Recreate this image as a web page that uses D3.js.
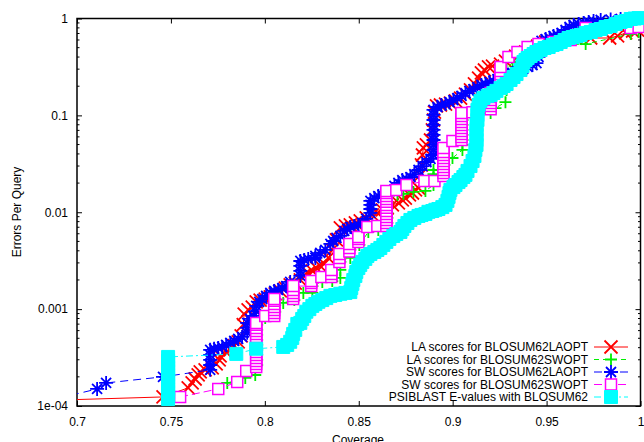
<!DOCTYPE html>
<html>
<head>
<meta charset="utf-8">
<script src="https://cdn.jsdelivr.net/npm/d3@7"></script>
<style>
	body { margin: 0; background: #fff; }
	svg { display: block; font-family: "Liberation Sans", Arial, Helvetica, sans-serif; }
</style>
</head>
<body>
<svg id="chart" width="644" height="442"></svg>
<script>
// axis ticks
const coverageTicks = [0.7, 0.75, 0.8, 0.85, 0.9, 0.95, 1]
const coverageTickLabels = ['0.7', '0.75', '0.8', '0.85', '0.9', '0.95', '1']
const errorTicks = [1e-4, 1e-3, 1e-2, 0.1, 1]
const errorTickLabels = ['1e-04', '0.001', '0.01', '0.1', '1']

const seriesNames = [
	'LA scores for BLOSUM62LAOPT',
	'LA scores for BLOSUM62SWOPT',
	'SW scores for BLOSUM62LAOPT',
	'SW scores for BLOSUM62SWOPT',
	'PSIBLAST E-values with BLOSUM62',
]

// [coverage, errors per query]
const laLaopt = [
	[0.69, 1.15e-4], [0.7458, 1.24e-4], [0.7592, 1.54e-4], [0.7613, 1.73e-4], [0.7629, 1.9e-4],
	[0.7645, 2.09e-4], [0.7656, 2.25e-4], [0.7682, 2.36e-4], [0.772, 2.47e-4], [0.7741, 2.72e-4],
	[0.7757, 2.99e-4], [0.7762, 3.29e-4], [0.7794, 3.6e-4], [0.7816, 3.8e-4], [0.7837, 4.2e-4],
	[0.7858, 4.6e-4], [0.7874, 5.29e-4], [0.7885, 6.9e-4], [0.789, 8.9e-4], [0.7911, 9.8e-4],
	[0.7933, 1.05e-3], [0.7954, 1.19e-3], [0.7975, 1.24e-3], [0.8002, 1.27e-3], [0.8029, 1.34e-3],
	[0.8055, 1.44e-3], [0.8082, 1.54e-3], [0.8109, 1.65e-3], [0.8135, 1.78e-3], [0.8162, 1.86e-3],
	[0.8189, 2.0e-3], [0.821, 2.25e-3], [0.8231, 2.36e-3], [0.8253, 2.48e-3], [0.8274, 2.66e-3],
	[0.8295, 2.79e-3], [0.8317, 2.93e-3], [0.8338, 3.38e-3], [0.8359, 4.08e-3], [0.8381, 5.18e-3],
	[0.8402, 6.89e-3], [0.8429, 7.22e-3], [0.8455, 7.39e-3], [0.8482, 7.75e-3], [0.8508, 8.13e-3],
	[0.854, 8.73e-3], [0.8572, 9.38e-3], [0.8599, 9.83e-3], [0.8626, 1.06e-2], [0.8652, 1.11e-2],
	[0.8679, 1.19e-2], [0.8711, 1.25e-2], [0.8732, 1.34e-2], [0.8748, 1.4e-2], [0.877, 1.51e-2],
	[0.8786, 1.58e-2], [0.8802, 1.7e-2], [0.8818, 1.78e-2], [0.8828, 2.43e-2], [0.8834, 3.08e-2],
	[0.8839, 3.9e-2], [0.8844, 4.61e-2], [0.886, 4.95e-2], [0.8882, 5.57e-2], [0.8892, 7.07e-2],
	[0.8898, 8.96e-2], [0.8903, 0.108], [0.8914, 0.125], [0.8935, 0.128], [0.8962, 0.131],
	[0.8988, 0.134], [0.9015, 0.141], [0.9042, 0.151], [0.9068, 0.166], [0.9095, 0.183],
	[0.9116, 0.211], [0.9138, 0.243], [0.9153, 0.274], [0.9169, 0.294], [0.9191, 0.316],
	[0.9212, 0.323], [0.9255, 0.339], [0.9281, 0.364], [0.9308, 0.391], [0.9335, 0.41],
	[0.9361, 0.43], [0.9388, 0.451], [0.9415, 0.473], [0.9452, 0.52], [0.9495, 0.572],
	[0.9532, 0.586], [0.9575, 0.6], [0.9655, 0.629], [0.9735, 0.629], [0.9836, 0.629],
	[0.9878, 0.66], [0.9921, 0.709], [0.9958, 0.743], [0.9985, 0.761],
]

const laSwopt = [
	[0.78, 1.73e-4], [0.7896, 1.95e-4], [0.7949, 2.09e-4], [0.7959, 2.65e-4], [0.7959, 2.99e-4],
	[0.7959, 3.37e-4], [0.7959, 3.8e-4], [0.7959, 4.27e-4], [0.7959, 4.81e-4], [0.7959, 5.42e-4],
	[0.7959, 6.1e-4], [0.7959, 6.9e-4], [0.8002, 8.1e-4], [0.8055, 9.4e-4], [0.8055, 1.1e-3],
	[0.8098, 1.16e-3], [0.8157, 1.24e-3], [0.8157, 1.47e-3], [0.8205, 1.47e-3], [0.8253, 1.47e-3],
	[0.8253, 1.73e-3], [0.8306, 1.91e-3], [0.8359, 1.95e-3], [0.8402, 2.1e-3], [0.8402, 2.54e-3],
	[0.8402, 3.07e-3], [0.8455, 3.38e-3], [0.8455, 4.08e-3], [0.8503, 4.6e-3], [0.8551, 6.26e-3],
	[0.8604, 6.57e-3], [0.8652, 6.89e-3], [0.8652, 7.75e-3], [0.8652, 8.73e-3], [0.8652, 9.83e-3],
	[0.8652, 1.11e-2], [0.8652, 1.25e-2], [0.8652, 1.4e-2], [0.8706, 1.51e-2], [0.8738, 1.55e-2],
	[0.8791, 1.62e-2], [0.8855, 1.66e-2], [0.8898, 1.91e-2], [0.8898, 2.1e-2], [0.8898, 2.26e-2],
	[0.8898, 2.48e-2], [0.8898, 2.73e-2], [0.8956, 3.08e-2], [0.8999, 3.63e-2], [0.9052, 4.4e-2],
	[0.9052, 4.95e-2], [0.9052, 5.57e-2], [0.9052, 6.28e-2], [0.9052, 7.07e-2], [0.9052, 7.96e-2],
	[0.9052, 8.96e-2], [0.9106, 0.101], [0.9202, 0.106], [0.9228, 0.119], [0.9281, 0.137],
	[0.9287, 0.183], [0.9287, 0.206], [0.9287, 0.232], [0.9287, 0.261], [0.9287, 0.294],
	[0.9319, 0.356], [0.9351, 0.41], [0.9457, 0.496], [0.9548, 0.533], [0.9708, 0.545],
	[0.9948, 0.692], [0.999, 0.726],
]

const swLaopt = [
	[0.69, 1.2e-4], [0.7107, 1.5e-4], [0.7155, 1.73e-4], [0.7458, 2.0e-4],
	[0.7709, 2.36e-4], [0.7709, 2.65e-4], [0.7709, 2.99e-4], [0.7709, 3.37e-4], [0.7709, 3.8e-4],
	[0.773, 3.9e-4], [0.7752, 3.98e-4], [0.7773, 4.07e-4], [0.7794, 4.27e-4], [0.7816, 4.48e-4],
	[0.7837, 4.7e-4], [0.7858, 4.93e-4], [0.7879, 5.16e-4], [0.7906, 5.69e-4], [0.7906, 6.4e-4],
	[0.7906, 7.21e-4], [0.7922, 7.92e-4], [0.7938, 8.5e-4], [0.7954, 9.55e-4], [0.7954, 1.08e-3],
	[0.797, 1.19e-3], [0.7986, 1.27e-3], [0.8007, 1.37e-3], [0.8029, 1.47e-3], [0.805, 1.54e-3],
	[0.8071, 1.58e-3], [0.8093, 1.65e-3], [0.8114, 1.73e-3], [0.8135, 1.91e-3], [0.8189, 2.2e-3],
	[0.8189, 2.48e-3], [0.8189, 2.79e-3], [0.8189, 3.14e-3], [0.821, 3.22e-3], [0.8231, 3.3e-3],
	[0.8269, 3.38e-3], [0.8269, 3.54e-3], [0.8295, 3.8e-3], [0.8322, 4.08e-3], [0.8349, 4.71e-3],
	[0.8364, 5.05e-3], [0.8381, 5.43e-3], [0.8402, 5.69e-3], [0.8423, 6.41e-3], [0.8439, 6.72e-3],
	[0.8455, 7.05e-3], [0.8476, 7.22e-3], [0.8498, 7.39e-3], [0.8519, 7.75e-3], [0.854, 8.53e-3],
	[0.8562, 9.83e-3], [0.8562, 1.08e-2], [0.8562, 1.19e-2], [0.8562, 1.31e-2], [0.8583, 1.4e-2],
	[0.8604, 1.47e-2], [0.8626, 1.51e-2], [0.8647, 1.55e-2], [0.8668, 1.66e-2], [0.869, 1.87e-2],
	[0.8711, 2.01e-2], [0.8732, 2.15e-2], [0.8754, 2.21e-2], [0.8775, 2.31e-2], [0.8796, 2.48e-2],
	[0.8818, 2.73e-2], [0.8839, 3.0e-2], [0.886, 3.3e-2], [0.8882, 3.55e-2], [0.8898, 3.9e-2],
	[0.8898, 4.4e-2], [0.8898, 4.95e-2], [0.8898, 5.57e-2], [0.8898, 6.28e-2], [0.8898, 7.07e-2],
	[0.8898, 7.96e-2], [0.8898, 8.96e-2], [0.8898, 0.101], [0.8898, 0.114], [0.8919, 0.122],
	[0.894, 0.128], [0.8962, 0.131], [0.8983, 0.137], [0.9004, 0.144], [0.9025, 0.151],
	[0.9047, 0.159], [0.9068, 0.17], [0.9089, 0.179], [0.9111, 0.187], [0.9132, 0.196],
	[0.9153, 0.206], [0.9175, 0.211], [0.9196, 0.221], [0.9217, 0.226], [0.9239, 0.237],
	[0.9265, 0.249], [0.9292, 0.261], [0.9319, 0.274], [0.9345, 0.287], [0.9372, 0.301],
	[0.9399, 0.316], [0.9425, 0.331], [0.9446, 0.347], [0.9457, 0.401], [0.9457, 0.462],
	[0.9457, 0.533], [0.9473, 0.586], [0.9495, 0.614], [0.9516, 0.629], [0.9537, 0.66],
	[0.9558, 0.676], [0.958, 0.709], [0.9601, 0.761], [0.9622, 0.817], [0.9644, 0.857],
	[0.967, 0.877], [0.9697, 0.899], [0.9724, 0.92], [0.975, 0.942], [0.9788, 0.965],
	[0.9841, 0.976], [0.9894, 0.988],
]

const swSwopt = [
	[0.7549, 1.24e-4], [0.7752, 1.5e-4], [0.7853, 1.77e-4], [0.7901, 2.3e-4],
	[0.7954, 2.53e-4], [0.7954, 2.72e-4], [0.7954, 2.92e-4], [0.7954, 3.13e-4], [0.7954, 3.37e-4],
	[0.7954, 3.6e-4], [0.7954, 3.9e-4], [0.7954, 4.2e-4], [0.7954, 4.48e-4], [0.7954, 4.81e-4],
	[0.7954, 5.16e-4], [0.7954, 5.55e-4], [0.7954, 5.96e-4], [0.7954, 6.4e-4], [0.7954, 6.9e-4],
	[0.7954, 7.21e-4], [0.8002, 8.5e-4], [0.805, 8.5e-4], [0.805, 9.1e-4], [0.805, 9.8e-4],
	[0.805, 1.05e-3], [0.805, 1.13e-3], [0.805, 1.22e-3], [0.805, 1.27e-3], [0.8151, 1.27e-3],
	[0.8151, 1.37e-3], [0.8151, 1.47e-3], [0.8151, 1.58e-3], [0.8151, 1.73e-3], [0.8247, 1.73e-3],
	[0.8247, 1.86e-3], [0.8247, 1.95e-3], [0.8301, 2.15e-3], [0.8354, 2.15e-3], [0.8354, 2.31e-3],
	[0.8354, 2.54e-3], [0.8397, 3.07e-3], [0.8397, 3.38e-3], [0.8397, 3.71e-3], [0.845, 3.94e-3],
	[0.845, 4.28e-3], [0.845, 4.71e-3], [0.8498, 4.94e-3], [0.8498, 5.3e-3], [0.8498, 5.56e-3],
	[0.8546, 7.05e-3], [0.8599, 7.22e-3], [0.8647, 7.22e-3], [0.8647, 7.75e-3], [0.8647, 8.33e-3],
	[0.8647, 8.94e-3], [0.8647, 9.6e-3], [0.8647, 1.03e-2], [0.8647, 1.11e-2], [0.8647, 1.19e-2],
	[0.8647, 1.28e-2], [0.8647, 1.37e-2], [0.8647, 1.47e-2], [0.8647, 1.58e-2], [0.8647, 1.66e-2],
	[0.87, 1.7e-2], [0.8754, 1.91e-2], [0.885, 2.1e-2], [0.8903, 2.1e-2], [0.8951, 2.37e-2],
	[0.8951, 2.54e-2], [0.8951, 2.73e-2], [0.8951, 2.93e-2], [0.8951, 3.15e-2], [0.8951, 3.38e-2],
	[0.8951, 3.63e-2], [0.8951, 3.9e-2], [0.8951, 4.19e-2], [0.8951, 4.61e-2], [0.8999, 5.44e-2],
	[0.9047, 5.57e-2], [0.9047, 5.98e-2], [0.9047, 6.43e-2], [0.9047, 6.9e-2], [0.9047, 7.41e-2],
	[0.9047, 7.96e-2], [0.9047, 8.55e-2], [0.9047, 9.18e-2], [0.9047, 9.86e-2], [0.9047, 0.106],
	[0.9106, 0.108], [0.9202, 0.116], [0.9202, 0.125], [0.9202, 0.134], [0.9202, 0.144],
	[0.9202, 0.155], [0.9202, 0.17], [0.9255, 0.196], [0.9255, 0.211], [0.9255, 0.232],
	[0.9255, 0.249], [0.9255, 0.267], [0.9255, 0.287], [0.9255, 0.316], [0.9297, 0.401],
	[0.9345, 0.451], [0.9399, 0.508], [0.9457, 0.545], [0.9537, 0.572], [0.9628, 0.6],
	[0.9708, 0.798], [0.9948, 0.798], [0.999, 0.817],
]

const psiblast = [
	[0.7485, 1.18e-4], [0.7485, 1.27e-4], [0.7485, 1.4e-4], [0.7485, 1.5e-4], [0.7485, 1.65e-4],
	[0.7485, 1.77e-4], [0.7485, 1.95e-4], [0.7485, 2.09e-4], [0.7485, 2.3e-4], [0.7485, 2.47e-4],
	[0.7485, 2.72e-4], [0.7485, 2.92e-4], [0.7485, 3.21e-4], [0.7848, 3.45e-4], [0.7954, 3.9e-4],
	[0.8098, 4.07e-4], [0.8119, 4.27e-4], [0.8135, 4.6e-4], [0.8146, 5.04e-4], [0.8151, 5.55e-4],
	[0.8162, 6.1e-4], [0.8173, 7.03e-4], [0.8189, 7.21e-4], [0.8199, 7.92e-4], [0.821, 8.5e-4],
	[0.8221, 9.4e-4], [0.8237, 1.0e-3], [0.8253, 1.08e-3], [0.8269, 1.13e-3], [0.8285, 1.19e-3],
	[0.8306, 1.24e-3], [0.8327, 1.3e-3], [0.8349, 1.37e-3], [0.8375, 1.4e-3], [0.8402, 1.44e-3],
	[0.8429, 1.47e-3], [0.8455, 1.5e-3], [0.846, 1.65e-3], [0.8466, 1.82e-3], [0.8471, 2.0e-3],
	[0.8482, 2.2e-3], [0.8487, 2.42e-3], [0.8498, 2.66e-3], [0.8508, 2.86e-3], [0.8519, 3.07e-3],
	[0.8535, 3.3e-3], [0.8546, 3.54e-3], [0.8562, 3.71e-3], [0.8583, 3.89e-3], [0.8599, 4.08e-3],
	[0.8615, 4.28e-3], [0.8631, 4.6e-3], [0.8647, 4.94e-3], [0.8663, 5.3e-3], [0.8684, 5.69e-3],
	[0.87, 5.97e-3], [0.8722, 6.26e-3], [0.8732, 6.72e-3], [0.8743, 7.22e-3], [0.8759, 7.75e-3],
	[0.8775, 8.33e-3], [0.8796, 8.73e-3], [0.8818, 9.16e-3], [0.8834, 9.38e-3], [0.8855, 9.6e-3],
	[0.8871, 1.01e-2], [0.8892, 1.03e-2], [0.8908, 1.06e-2], [0.8924, 1.08e-2], [0.8945, 1.13e-2],
	[0.8962, 1.19e-2], [0.8972, 1.31e-2], [0.8978, 1.44e-2], [0.8983, 1.58e-2], [0.8988, 1.7e-2],
	[0.9004, 1.82e-2], [0.9015, 1.91e-2], [0.9031, 2.05e-2], [0.9042, 2.15e-2], [0.9057, 2.31e-2],
	[0.9068, 2.43e-2], [0.9079, 2.67e-2], [0.9095, 3.0e-2], [0.9106, 3.38e-2], [0.9116, 3.81e-2],
	[0.9121, 4.4e-2], [0.9127, 4.95e-2], [0.9127, 5.57e-2], [0.9127, 6.28e-2], [0.9127, 7.07e-2],
	[0.9127, 7.96e-2], [0.9132, 8.96e-2], [0.9132, 0.101], [0.9132, 0.114], [0.9138, 0.128],
	[0.9148, 0.141], [0.9164, 0.151], [0.9186, 0.159], [0.9202, 0.162], [0.9217, 0.17],
	[0.9233, 0.179], [0.9255, 0.192], [0.9271, 0.201], [0.9287, 0.211], [0.9308, 0.232],
	[0.9324, 0.249], [0.934, 0.267], [0.9361, 0.294], [0.9372, 0.323], [0.9377, 0.356],
	[0.9388, 0.373], [0.9399, 0.391], [0.9415, 0.41], [0.9431, 0.43], [0.9446, 0.451],
	[0.9468, 0.473], [0.9489, 0.496], [0.9511, 0.508], [0.9532, 0.533], [0.9553, 0.545],
	[0.9575, 0.572], [0.9596, 0.6], [0.9617, 0.629], [0.9639, 0.644], [0.966, 0.66],
	[0.9681, 0.676], [0.9708, 0.709], [0.9735, 0.726], [0.9761, 0.761], [0.9788, 0.779],
	[0.9814, 0.817], [0.9841, 0.837], [0.9868, 0.877], [0.9894, 0.92], [0.9921, 0.942],
	[0.9948, 0.988], [0.9969, 1.0], [0.999, 1.01],
]

// gnuplot-ish point shapes, centred on 0,0
const markers = {
	cross: {d: 'M-6.5,-6.5L6.5,6.5M-6.5,6.5L6.5,-6.5', fill: 'none', width: 1.8},
	plus: {d: 'M-6,0L6,0M0,-6L0,6', fill: 'none', width: 1.8},
	star: {d: 'M-7,0L7,0M0,-7L0,7M-5,-5L5,5M-5,5L5,-5', fill: 'none', width: 1.8},
	box: {d: 'M-5.5,-5.5H5.5V5.5H-5.5Z', fill: '#fff', width: 1.5},
	boxFilled: {d: 'M-6.5,-6.5H6.5V6.5H-6.5Z', fill: 'currentColor', width: 1},
}

const series = [
	{name: seriesNames[0], data: laLaopt, color: '#ff0000', dash: null, marker: 'cross'},
	{name: seriesNames[1], data: laSwopt, color: '#00ee00', dash: '5,4', marker: 'plus'},
	{name: seriesNames[2], data: swLaopt, color: '#0000ff', dash: '8,5', marker: 'star'},
	{name: seriesNames[3], data: swSwopt, color: '#ff00ff', dash: '8,4', marker: 'box'},
	{name: seriesNames[4], data: psiblast, color: '#00ffff', dash: '7,3,2,3', marker: 'boxFilled'},
]

const W = 644
const H = 442
const plot = {left: 77, right: 640.5, top: 18.5, bottom: 406}

const x = d3.scaleLinear().domain([0.7, 1]).range([plot.left, plot.right])
const y = d3.scaleLog().domain([1e-4, 1]).range([plot.bottom, plot.top])

const svg = d3.select('#chart')
svg.append('rect').attr('width', W).attr('height', H).attr('fill', '#fff')

svg.append('clipPath').attr('id', 'plot-clip')
	.append('rect')
	.attr('x', plot.left).attr('y', plot.top)
	.attr('width', plot.right - plot.left).attr('height', plot.bottom - plot.top)

// border first, the big markers are painted over it like gnuplot does
svg.append('rect')
	.attr('x', plot.left).attr('y', plot.top)
	.attr('width', plot.right - plot.left).attr('height', plot.bottom - plot.top)
	.attr('fill', 'none').attr('stroke', '#000').attr('stroke-width', 1.5)

const styleAxis = g => {
	g.select('.domain').remove()
	g.selectAll('line').attr('stroke', '#000').attr('stroke-width', 1)
	g.selectAll('text').attr('fill', '#000').attr('font-size', 12)
		.attr('font-family', '"Liberation Sans", Arial, Helvetica, sans-serif')
}

svg.append('g').attr('transform', `translate(0,${plot.bottom})`)
	.call(d3.axisBottom(x).tickValues(coverageTicks)
		.tickFormat(d => coverageTickLabels[coverageTicks.indexOf(d)])
		.tickSizeInner(-5).tickSizeOuter(0).tickPadding(11.5))
	.call(styleAxis)

svg.append('g').attr('transform', `translate(0,${plot.top})`)
	.call(d3.axisTop(x).tickValues(coverageTicks).tickFormat('').tickSizeInner(-5).tickSizeOuter(0))
	.call(styleAxis)

svg.append('g').attr('transform', `translate(${plot.left},0)`)
	.call(d3.axisLeft(y).tickValues(errorTicks)
		.tickFormat(d => errorTickLabels[errorTicks.indexOf(d)])
		.tickSizeInner(-5).tickSizeOuter(0).tickPadding(9))
	.call(styleAxis)

svg.append('g').attr('transform', `translate(${plot.right},0)`)
	.call(d3.axisRight(y).tickValues(errorTicks).tickFormat('').tickSizeInner(-5).tickSizeOuter(0))
	.call(styleAxis)

// minor log ticks on both sides
const minor = y.ticks().filter(t => !errorTicks.some(m => Math.abs(m - t) / m < 1e-9))
const minorG = svg.append('g').attr('stroke', '#000').attr('stroke-width', 1)
minorG.selectAll('line.l').data(minor).join('line').attr('class', 'l')
	.attr('x1', plot.left).attr('x2', plot.left + 2.5)
	.attr('y1', d => y(d)).attr('y2', d => y(d))
minorG.selectAll('line.r').data(minor).join('line').attr('class', 'r')
	.attr('x1', plot.right - 2.5).attr('x2', plot.right)
	.attr('y1', d => y(d)).attr('y2', d => y(d))

// axis titles (the x title sits at the very bottom edge, as in the original)
svg.append('text')
	.attr('x', 358).attr('y', 444)
	.attr('text-anchor', 'middle').attr('font-size', 12)
	.text('Coverage')

svg.append('text')
	.attr('transform', 'translate(17,212) rotate(-90)')
	.attr('text-anchor', 'middle').attr('dy', '0.35em').attr('font-size', 12)
	.text('Errors Per Query')

const line = d3.line().x(d => x(d[0])).y(d => y(d[1]))

series.forEach(s => {
	const g = svg.append('g').attr('color', s.color)
	g.append('path')
		.attr('clip-path', 'url(#plot-clip)')
		.attr('d', line(s.data))
		.attr('fill', 'none')
		.attr('stroke', s.color)
		.attr('stroke-width', 1)
		.attr('stroke-dasharray', s.dash)

	const m = markers[s.marker]
	g.selectAll('path.pt')
		.data(s.data.filter(d => d[0] >= 0.7 && d[0] <= 1))
		.join('path')
		.attr('class', 'pt')
		.attr('transform', d => `translate(${x(d[0])},${y(d[1])})`)
		.attr('d', m.d)
		.attr('fill', m.fill)
		.attr('stroke', s.color)
		.attr('stroke-width', m.width)
})

// key, bottom right
const key = svg.append('g')
const keyRow = d3.scaleLinear().domain([0, 4]).range([347, 397])
series.forEach((s, i) => {
	const row = key.append('g').attr('transform', `translate(0,${keyRow(i)})`).attr('color', s.color)
	row.append('text')
		.attr('x', 588).attr('dy', '0.35em')
		.attr('text-anchor', 'end').attr('font-size', 12).attr('fill', '#000')
		.text(s.name)
	row.append('line')
		.attr('x1', 594).attr('x2', 628)
		.attr('stroke', s.color).attr('stroke-width', 1)
		.attr('stroke-dasharray', s.dash)
	const m = markers[s.marker]
	row.append('path')
		.attr('transform', 'translate(611,0)')
		.attr('d', m.d).attr('fill', m.fill)
		.attr('stroke', s.color).attr('stroke-width', m.width)
})
</script>
</body>
</html>
